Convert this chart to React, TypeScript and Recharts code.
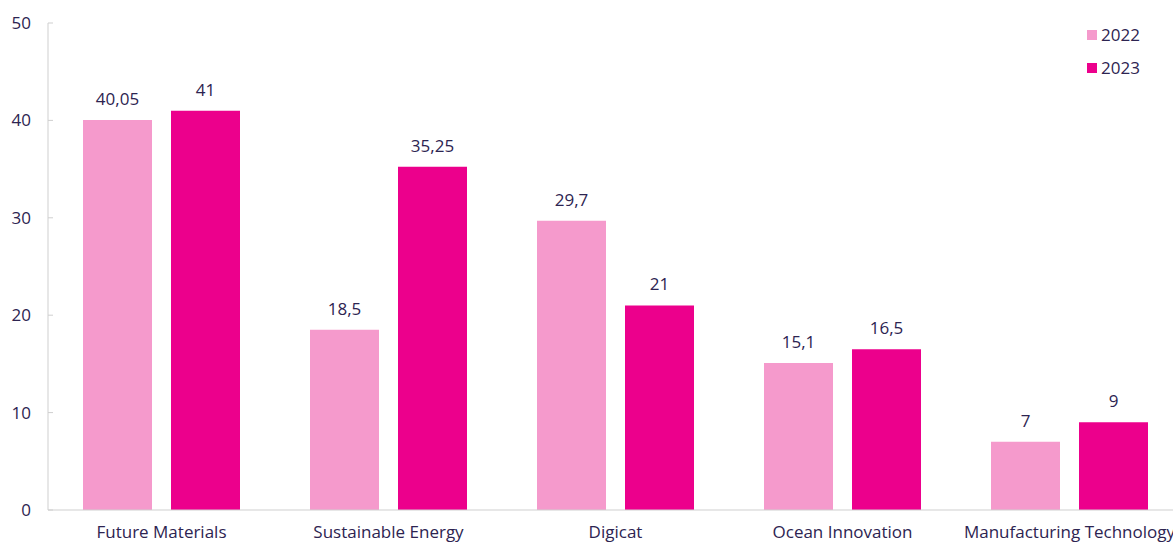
import { BarChart, Bar, XAxis, YAxis, LabelList } from 'recharts';

const categories = [
  'Future Materials',
  'Sustainable Energy',
  'Digicat',
  'Ocean Innovation',
  'Manufacturing Technology',
];
const values2022 = [40.05, 18.5, 29.7, 15.1, 7];
const values2023 = [41, 35.25, 21, 16.5, 9];
const yTicks = [0, 10, 20, 30, 40, 50];

const series = [
  { key: 'y2022', name: '2022', color: '#f59acc' },
  { key: 'y2023', name: '2023', color: '#ec008c' },
];

const data = categories.map((name, i) => ({
  name,
  y2022: values2022[i],
  y2023: values2023[i],
}));

const TEXT = '#2d2451';
const AXIS = '#cfcfcf';
const FONT = '"Open Sans", sans-serif';
const FS = 17;

const fmt = (v: number) => String(v).replace('.', ',');

// y tick with a short inward tick mark like the original
const YTick = (props: any) => {
  const { x, y, payload } = props;
  return (
    <g>
      <line x1={x + 17} x2={x + 22} y1={y} y2={y} stroke={AXIS} />
      <text x={x} y={y} dy="0.35em" textAnchor="end" fill={TEXT} fontSize={FS} fontFamily={FONT}>
        {payload.value}
      </text>
    </g>
  );
};

export default function App() {
  return (
    <div style={{ position: 'absolute', left: 0, top: 0, width: 1173, height: 543, overflow: 'hidden', background: '#fff' }}>
      <BarChart
        width={1200}
        height={543}
        data={data}
        margin={{ top: 23, right: 17, left: 0, bottom: 0 }}
        barSize={69}
        barGap={19}
      >
        <XAxis
          dataKey="name"
          stroke={AXIS}
          tickLine={false}
          tickSize={0}
          tickMargin={16}
          height={33}
          interval={0}
          tick={{ fill: TEXT, fontSize: FS, fontFamily: FONT }}
        />
        <YAxis
          domain={[0, 50]}
          ticks={yTicks}
          stroke={AXIS}
          tickLine={false}
          tickSize={0}
          tickMargin={17}
          width={48}
          tick={<YTick />}
        />
        {series.map((s) => (
          <Bar key={s.key} dataKey={s.key} name={s.name} fill={s.color} isAnimationActive={false}>
            <LabelList dataKey={s.key} position="top" offset={15} formatter={fmt} fill={TEXT} fontSize={FS} fontFamily={FONT} />
          </Bar>
        ))}
      </BarChart>
      <div style={{ position: 'absolute', left: 1087, top: 18 }}>
        {series.map((s) => (
          <div
            key={s.key}
            style={{ display: 'flex', alignItems: 'center', height: 33, fontFamily: FONT, fontSize: FS, color: TEXT }}
          >
            <span style={{ width: 10, height: 10, background: s.color, marginRight: 4, display: 'inline-block' }} />
            {s.name}
          </div>
        ))}
      </div>
    </div>
  );
}
